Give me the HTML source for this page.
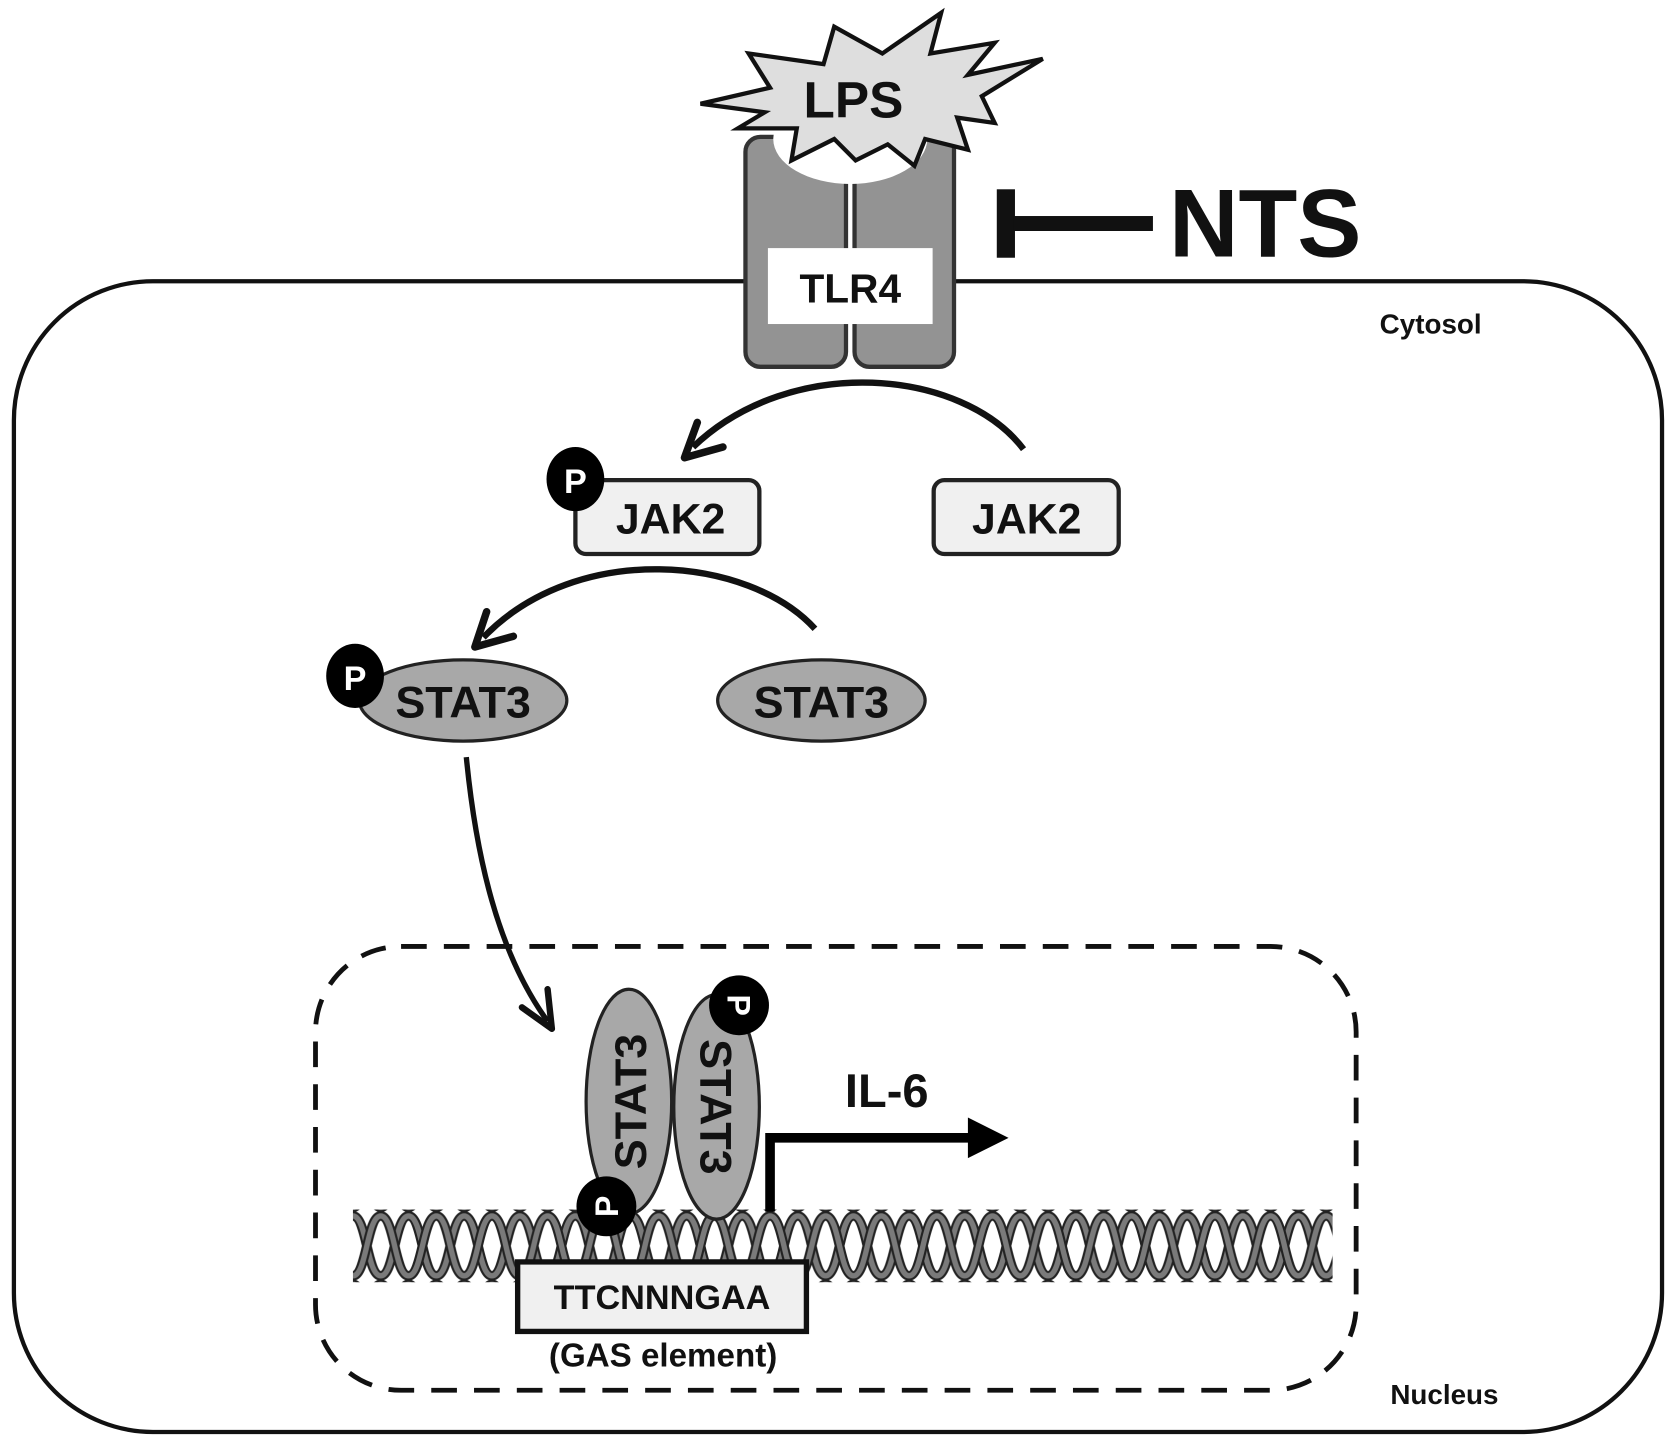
<!DOCTYPE html>
<html><head><meta charset="utf-8"><style>
html,body{margin:0;padding:0;background:#fff;width:1677px;height:1448px;overflow:hidden}
svg{display:block}
text{font-family:"Liberation Sans",Arial,sans-serif;font-weight:bold;fill:#111}
</style></head><body>
<svg width="1677" height="1448" viewBox="0 0 1568 1354" preserveAspectRatio="none" xmlns="http://www.w3.org/2000/svg">
<defs>
<pattern id="dna" x="330" y="1133" width="52" height="64" patternUnits="userSpaceOnUse">
<path d="M0,4 C13,4 13,60 26,60 C39,60 39,4 52,4" fill="none" stroke="#222" stroke-width="9"/>
<path d="M0,4 C13,4 13,60 26,60 C39,60 39,4 52,4" fill="none" stroke="#7a7a7a" stroke-width="5"/>
<path d="M0,60 C13,60 13,4 26,4 C39,4 39,60 52,60" fill="none" stroke="#222" stroke-width="9"/>
<path d="M0,60 C13,60 13,4 26,4 C39,4 39,60 52,60" fill="none" stroke="#7a7a7a" stroke-width="5"/>
</pattern>
</defs>

<!-- cell -->
<rect x="13" y="263" width="1541" height="1076" rx="130" fill="none" stroke="#111" stroke-width="4"/>
<text x="1290" y="312" font-size="26">Cytosol</text>
<text x="1300" y="1313" font-size="26">Nucleus</text>

<!-- TLR4 -->
<rect x="697" y="128" width="94" height="215" rx="14" fill="#939393" stroke="#333" stroke-width="4"/>
<rect x="799" y="116" width="93" height="227" rx="14" fill="#939393" stroke="#333" stroke-width="4"/>
<ellipse cx="795" cy="130" rx="72" ry="42" fill="#fff"/>
<rect x="718" y="232" width="154" height="71" fill="#fff"/>
<text x="795" y="283" font-size="38" text-anchor="middle">TLR4</text>

<!-- LPS star -->
<polygon points="655,97 720,82 700,50 770,60 780,25 825,50 880,12 870,50 930,40 905,70 975,55 918,90 930,115 895,110 905,140 865,130 855,155 830,135 800,150 780,130 740,150 745,120 690,120 715,105"
 fill="#dedede" stroke="#111" stroke-width="4" stroke-linejoin="miter"/>
<text x="798" y="110" font-size="48" text-anchor="middle">LPS</text>

<!-- NTS -->
<rect x="932" y="177" width="17" height="64" fill="#111"/>
<rect x="948" y="202" width="130" height="14" fill="#111"/>
<text x="1093" y="240" font-size="90">NTS</text>

<!-- arc JAK2 -->
<path d="M957,420 C900,345 740,330 648,418" fill="none" stroke="#111" stroke-width="6"/>
<path d="M640,428 L652,395 M640,428 L676,418" fill="none" stroke="#111" stroke-width="7" stroke-linecap="round"/>

<rect x="538" y="449" width="172" height="69" rx="10" fill="#f0f0f0" stroke="#222" stroke-width="4"/>
<text x="627" y="499" font-size="40" text-anchor="middle">JAK2</text>
<ellipse cx="538" cy="448" rx="27" ry="30" fill="#000"/>
<text x="538" y="461" font-size="32" text-anchor="middle" style="fill:#fff">P</text>

<rect x="873" y="449" width="173" height="69" rx="10" fill="#f0f0f0" stroke="#222" stroke-width="4"/>
<text x="960" y="499" font-size="40" text-anchor="middle">JAK2</text>

<!-- arc STAT3 -->
<path d="M762,588 C700,520 540,505 452,596" fill="none" stroke="#111" stroke-width="6"/>
<path d="M444,605 L455,572 M444,605 L480,595" fill="none" stroke="#111" stroke-width="7" stroke-linecap="round"/>

<ellipse cx="433" cy="655" rx="97" ry="38" fill="#a8a8a8" stroke="#222" stroke-width="3"/>
<text x="433" y="671" font-size="42" text-anchor="middle">STAT3</text>
<ellipse cx="332" cy="632" rx="27" ry="30" fill="#000"/>
<text x="332" y="645" font-size="32" text-anchor="middle" style="fill:#fff">P</text>

<ellipse cx="768" cy="655" rx="97" ry="38" fill="#a8a8a8" stroke="#222" stroke-width="3"/>
<text x="768" y="671" font-size="42" text-anchor="middle">STAT3</text>

<!-- translocation arrow -->
<path d="M436,708 C445,800 465,890 512,955" fill="none" stroke="#111" stroke-width="5"/>
<path d="M516,962 L512,925 M516,962 L488,942" fill="none" stroke="#111" stroke-width="6" stroke-linecap="round"/>

<!-- nucleus -->
<rect x="295" y="885" width="973" height="415" rx="80" fill="none" stroke="#111" stroke-width="4.5" stroke-dasharray="24 16"/>

<!-- DNA -->
<rect x="330" y="1131" width="916" height="68" fill="url(#dna)"/>

<!-- STAT3 dimer -->
<ellipse cx="588" cy="1030" rx="40" ry="105" fill="#a8a8a8" stroke="#222" stroke-width="3"/>
<text transform="translate(604,1030) rotate(-90)" font-size="42" text-anchor="middle">STAT3</text>
<ellipse cx="670" cy="1035" rx="40" ry="105" fill="#a8a8a8" stroke="#222" stroke-width="3"/>
<text transform="translate(655,1035) rotate(90)" font-size="42" text-anchor="middle">STAT3</text>
<ellipse cx="567" cy="1128" rx="28" ry="28" fill="#000"/>
<text transform="translate(578,1128) rotate(-90)" font-size="30" text-anchor="middle" style="fill:#fff">P</text>
<ellipse cx="691" cy="940" rx="28" ry="28" fill="#000"/>
<text transform="translate(680,940) rotate(90)" font-size="30" text-anchor="middle" style="fill:#fff">P</text>

<!-- IL-6 arrow -->
<path d="M720,1133 L720,1064 L912,1064" fill="none" stroke="#000" stroke-width="9"/>
<polygon points="905,1045 943,1064 905,1083" fill="#000"/>
<text x="790" y="1035" font-size="44">IL-6</text>

<!-- GAS -->
<rect x="484" y="1180" width="270" height="65" fill="#f0f0f0" stroke="#111" stroke-width="5"/>
<text x="619" y="1224" font-size="32" text-anchor="middle">TTCNNNGAA</text>
<text x="620" y="1278" font-size="31" text-anchor="middle">(GAS element)</text>
</svg>
</body></html>
